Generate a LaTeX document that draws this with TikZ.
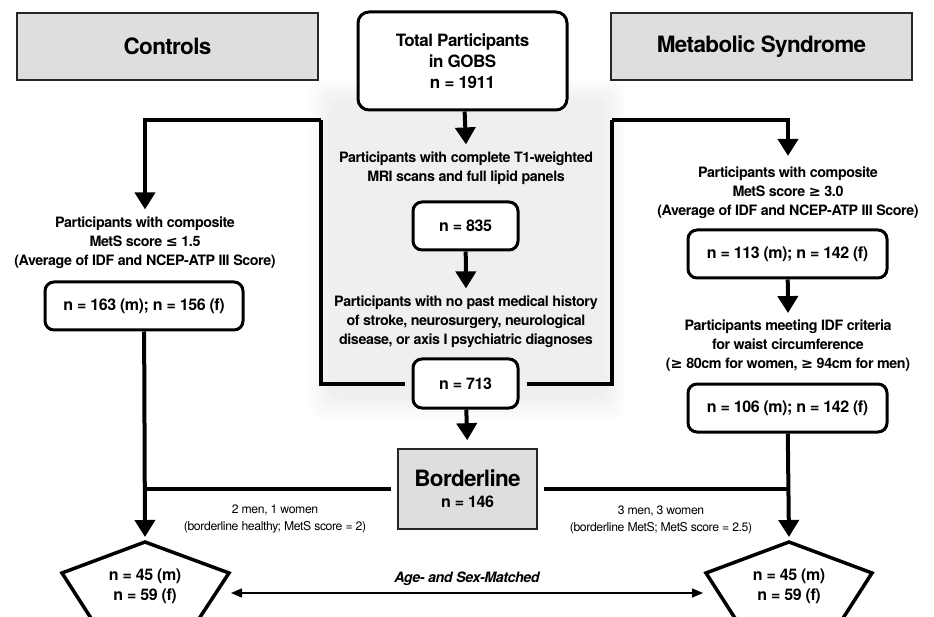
\documentclass[tikz,border=0pt]{standalone}
\usepackage{fontspec}
\setmainfont{TeX Gyre Heros}[LetterSpace=-3]
\newfontfamily\symfont{DejaVu Sans}
\usetikzlibrary{arrows.meta}
\newcommand{\myle}{{\symfont\bfseries ≤}}
\newcommand{\myge}{{\symfont\bfseries ≥}}
\begin{document}
\begin{tikzpicture}[x=1pt,y=-1pt,
  titlebox/.style={draw=black!85, line width=1.6pt, fill=black!13, minimum width=301pt, minimum height=67pt, inner sep=0pt, font=\fontsize{22.5}{25}\selectfont\bfseries},
  cbox/.style={draw, line width=3pt, rounded corners=9pt, fill=white, inner sep=0pt, font=\fontsize{16}{20}\selectfont\bfseries},
  ctext/.style={align=center, inner xsep=2pt, inner ysep=7pt, font=\fontsize{14.3}{19}\selectfont\bfseries},
  flow/.style={line width=4pt, -{Triangle[width=20pt,length=17pt]}},
  link/.style={line width=4pt},
  note/.style={align=center, inner sep=0pt, font=\fontsize{12.2}{17}\selectfont},
  pent/.style={draw, line width=3.5pt, fill=white, line join=miter},
]
\useasboundingbox (0,0) rectangle (934,617);
\clip (0,0) rectangle (934,617);
% soft grey background of the central column
\foreach \i in {0,...,7}{
  \fill[black, opacity=0.009, rounded corners=12pt] (330-\i*3,100-\i*3) rectangle (605+\i*3,398+\i*3);
}
% title boxes
\node[titlebox] (controls) at (167.5,46.5) {Controls};
\node[titlebox] (mets) at (761.5,46.5) {Metabolic Syndrome};
% central column
\node[cbox, minimum width=209pt, minimum height=98pt, rounded corners=11pt, align=center,
      font=\fontsize{17}{21}\selectfont\bfseries] (total) at (462.5,61)
      {Total Participants\\in GOBS\\n = 1911};
\node[ctext] (t1text) at (466,168) {Participants with complete T1-weighted\\MRI scans and full lipid panels};
\node[cbox, minimum width=105pt, minimum height=48pt] (n835) at (465.5,226) {n = 835};
\node[ctext] (histtext) at (466,321.5) {Participants with no past medical history\\of stroke, neurosurgery, neurological\\disease, or axis I psychiatric diagnoses};
\node[cbox, minimum width=105pt, minimum height=49pt] (n713) at (465.5,383.5) {n = 713};
\node[draw=black!85, line width=1.6pt, fill=black!13, minimum width=139pt, minimum height=80pt, inner sep=0pt, align=center,
      font=\fontsize{16}{22}\selectfont\bfseries] (border) at (467.5,489)
      {{\fontsize{22.5}{22}\selectfont Borderline}\\[-1pt]n = 146};
% left column
\node[ctext] (ctext) at (145,242.5) {Participants with composite\\MetS score \myle\ 1.5\\(Average of IDF and NCEP-ATP III Score)};
\node[cbox, minimum width=198pt, minimum height=48pt] (n163) at (144,306) {n = 163 (m); n = 156 (f)};
% right column
\node[ctext] (mtext) at (788,193) {Participants with composite\\MetS score \myge\ 3.0\\(Average of IDF and NCEP-ATP III Score)};
\node[cbox, minimum width=199pt, minimum height=48pt] (n113) at (787.5,254) {n = 113 (m); n = 142 (f)};
\node[ctext] (idftext) at (788,346) {Participants meeting IDF criteria\\for waist circumference\\(\myge\ 80cm for women, \myge\ 94cm for men)};
\node[cbox, minimum width=199pt, minimum height=48pt] (n106) at (787.5,408) {n = 106 (m); n = 142 (f)};
% pentagons (bottom cut by the page edge)
\draw[pent] (145,542) -- (229,573) -- (185,640) -- (105,640) -- (62,573) -- cycle;
\draw[pent] (789,542) -- (872,573) -- (829,640) -- (749,640) -- (706,573) -- cycle;
\coordinate (pL) at (145,541);
\coordinate (pR) at (789,541);
\node[align=center, inner sep=0pt, font=\fontsize{16}{20}\selectfont\bfseries] (gL) at (145,586) {n = 45 (m)\\n = 59 (f)};
\node[align=center, inner sep=0pt, font=\fontsize{16}{20}\selectfont\bfseries] (gR) at (789,586) {n = 45 (m)\\n = 59 (f)};
\coordinate (aL) at (231,593);
\coordinate (aR) at (703,593);
% connectors
\draw[flow] (total) -- (t1text.north);
\draw[flow] (n835) -- (histtext.north);
\draw[flow, shorten >=8pt] (n713) -- (border.north);
\coordinate (lc) at (321,120);
\coordinate (rc) at (612,120);
\draw[link, shorten <=7pt] (n713.west) -| (lc);
\draw[flow] (lc) -| (ctext.north);
\draw[link, shorten <=7pt] (n713.east) -| (rc);
\draw[flow, shorten >=4pt] (rc) -| (mtext.north);
\draw[flow] (n113) -- (idftext.north);
\draw[flow, shorten >=4pt] (n163) -- (pL);
\draw[flow, shorten >=4pt] (n106) -- (pR);
\draw[link, shorten <=6pt] (border.west) -- (border.west -| n163);
\draw[link, shorten <=6pt] (border.east) -- (border.east -| n106);
\draw[line width=1.5pt, {Triangle[width=9pt,length=11pt]}-{Triangle[width=9pt,length=11pt]}] (aL) -- (aR);
% labels
\node[note] (lnote) at (275,519.5) {2 men, 1 women\\(borderline healthy; MetS score = 2)};
\node[note] (rnote) at (661,519.5) {3 men, 3 women\\(borderline MetS; MetS score = 2.5)};
\node[inner sep=0pt, font=\fontsize{14.3}{16}\selectfont\bfseries\itshape] (agetext) at (467,579) {Age- and Sex-Matched};
\end{tikzpicture}
\end{document}
